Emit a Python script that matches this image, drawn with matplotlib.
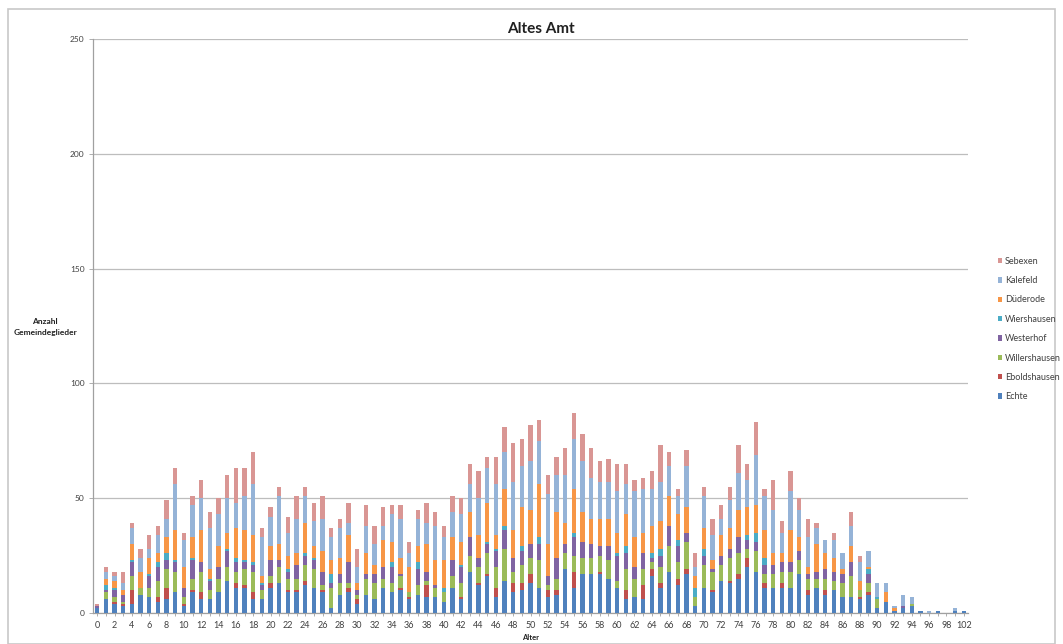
import matplotlib
matplotlib.use("Agg")
import matplotlib.pyplot as plt
from matplotlib.patches import Rectangle, Patch
import numpy as np

plt.rcParams["font.family"] = ["Lato", "DejaVu Sans"]

# Age categories (ages 99 and 101 do not occur)
ages = list(range(0, 99)) + [100, 102]

echte = [2, 6, 4, 3, 4, 8, 7, 5, 6, 9,
         3, 9, 6, 6, 9, 14, 11, 11, 6, 6,
         11, 13, 9, 9, 12, 11, 9, 2, 8, 9,
         4, 8, 6, 11, 9, 10, 6, 8, 7, 7,
         5, 11, 6, 18, 12, 16, 7, 14, 9, 10,
         13, 11, 7, 8, 19, 11, 17, 17, 17, 15,
         11, 6, 7, 6, 16, 11, 18, 12, 17, 3,
         11, 9, 14, 13, 15, 20, 18, 11, 11, 11,
         11, 17, 8, 11, 8, 10, 7, 7, 6, 8,
         2, 5, 1, 2, 3, 1, 0, 1, 0,
         1, 1]
eboldshausen = [0, 0, 1, 1, 6, 0, 0, 2, 5, 0,
                1, 1, 3, 0, 0, 0, 2, 1, 3, 0,
                2, 0, 1, 1, 2, 0, 1, 0, 0, 2,
                2, 0, 0, 0, 0, 1, 1, 0, 5, 0,
                0, 0, 1, 0, 1, 1, 4, 0, 4, 3,
                4, 0, 3, 2, 0, 7, 0, 0, 1, 0,
                0, 4, 0, 6, 3, 2, 0, 3, 2, 0,
                0, 1, 0, 1, 2, 4, 0, 2, 0, 2,
                0, 0, 2, 0, 2, 0, 0, 0, 1, 1,
                0, 0, 0, 0, 0, 0, 0, 0, 0,
                0, 0]
willershausen = [0, 3, 2, 1, 6, 3, 4, 7, 8, 9,
                 3, 5, 9, 4, 6, 6, 5, 7, 9, 4,
                 3, 7, 5, 5, 7, 8, 2, 9, 5, 2,
                 2, 7, 7, 4, 4, 5, 2, 4, 2, 4,
                 4, 5, 6, 7, 7, 9, 9, 14, 5, 8,
                 7, 12, 2, 5, 7, 7, 7, 7, 7, 8,
                 3, 9, 8, 7, 3, 7, 11, 7, 12, 4,
                 10, 8, 7, 10, 9, 4, 9, 4, 6, 5,
                 7, 6, 5, 4, 5, 4, 6, 9, 3, 4,
                 4, 0, 0, 0, 1, 0, 0, 0, 0,
                 0, 0]
westerhof = [1, 1, 3, 3, 6, 0, 5, 6, 4, 4,
             4, 8, 4, 4, 5, 7, 4, 3, 3, 2,
             7, 3, 3, 6, 4, 4, 6, 2, 4, 9,
             2, 2, 4, 5, 7, 1, 0, 7, 4, 1,
             0, 7, 7, 8, 4, 4, 7, 8, 6, 6,
             6, 7, 4, 9, 4, 8, 7, 6, 4, 6,
             11, 7, 5, 7, 2, 5, 9, 7, 4, 0,
             4, 1, 4, 4, 7, 4, 4, 4, 4, 4,
             4, 4, 2, 3, 4, 4, 4, 6, 0, 4,
             0, 0, 0, 1, 0, 0, 0, 0, 0,
             0, 0]
wiershausen = [0, 2, 1, 0, 1, 0, 1, 2, 3, 1,
               0, 1, 0, 1, 0, 1, 2, 1, 1, 1,
               0, 0, 1, 0, 1, 1, 0, 4, 0, 0,
               0, 0, 0, 0, 2, 0, 0, 3, 0, 0,
               2, 0, 1, 0, 0, 1, 1, 2, 0, 2,
               0, 3, 0, 0, 0, 2, 0, 0, 0, 0,
               1, 3, 0, 0, 2, 3, 0, 3, 0, 4,
               3, 0, 0, 0, 0, 2, 4, 3, 0, 0,
               0, 0, 0, 0, 0, 0, 0, 0, 0, 2,
               1, 0, 0, 0, 0, 0, 0, 0, 0,
               0, 0]
duederode = [0, 3, 3, 2, 7, 7, 7, 4, 7, 13,
             9, 9, 14, 4, 9, 7, 13, 13, 12, 3,
             6, 7, 6, 5, 13, 5, 9, 6, 7, 12,
             3, 9, 4, 12, 9, 7, 11, 7, 12, 11,
             12, 10, 10, 11, 10, 17, 6, 16, 12, 17,
             15, 23, 14, 20, 9, 19, 13, 11, 12, 12,
             9, 14, 13, 9, 12, 12, 13, 11, 11, 5,
             9, 4, 9, 9, 12, 12, 12, 12, 5, 4,
             14, 6, 3, 12, 7, 6, 2, 7, 4, 1,
             0, 4, 1, 0, 0, 0, 0, 0, 0,
             0, 0]
kalefeld = [0, 3, 2, 3, 7, 6, 4, 8, 8, 20,
            12, 14, 14, 18, 14, 15, 11, 15, 22, 17,
            13, 21, 10, 15, 12, 11, 14, 10, 13, 5,
            7, 12, 9, 6, 12, 17, 6, 12, 9, 15,
            10, 11, 12, 12, 16, 15, 22, 16, 21, 18,
            21, 19, 22, 16, 21, 22, 22, 18, 16, 16,
            18, 13, 20, 19, 16, 17, 13, 8, 18, 4,
            14, 11, 7, 12, 16, 12, 22, 15, 19, 9,
            17, 12, 13, 7, 6, 8, 7, 9, 8, 7,
            6, 4, 1, 5, 3, 0, 1, 0, 0,
            1, 0]
sebexen = [1, 2, 2, 5, 2, 4, 6, 4, 8, 7,
           3, 4, 8, 7, 7, 10, 15, 12, 14, 4,
           4, 4, 7, 10, 4, 8, 10, 4, 4, 9,
           8, 9, 8, 8, 4, 6, 5, 4, 9, 6,
           5, 7, 7, 9, 12, 5, 12, 11, 17, 12,
           16, 9, 8, 8, 12, 11, 12, 13, 9, 10,
           12, 9, 5, 5, 8, 16, 6, 3, 7, 6,
           4, 7, 6, 6, 12, 7, 14, 3, 13, 5,
           9, 5, 8, 2, 0, 3, 0, 6, 3, 0,
           0, 0, 0, 0, 0, 0, 0, 0, 0,
           0, 0]

series_names = ["Echte", "Eboldshausen", "Willershausen", "Westerhof",
                "Wiershausen", "Düderode", "Kalefeld", "Sebexen"]
series_values = [echte, eboldshausen, willershausen, westerhof,
                 wiershausen, duederode, kalefeld, sebexen]
series_colors = ["#4F81BD", "#C0504D", "#9BBB59", "#8064A2",
                 "#4BACC6", "#F79646", "#95B3D7", "#D99694"]

W, H = 1063, 644
fig = plt.figure(figsize=(W / 100, H / 100), dpi=100)

# chart frame
fig.patches.append(Rectangle((8 / W, 0), (1055 - 8) / W, 1 - 9 / H,
                             transform=fig.transFigure, fill=False,
                             edgecolor="#C8C8C8", linewidth=1.2))

ax = fig.add_axes([93 / W, 1 - 613 / H, (968 - 93) / W, (613 - 39) / H])

x = np.arange(len(ages))
bottom = np.zeros(len(ages))
for name, vals, col in zip(series_names, series_values, series_colors):
    v = np.array(vals, dtype=float)
    ax.bar(x, v, width=0.5, bottom=bottom, color=col, label=name,
           linewidth=0, zorder=3)
    bottom += v

ax.set_xlim(-0.5, len(ages) - 0.5)
ax.set_ylim(0, 250)
ax.set_yticks(np.arange(0, 251, 50))
ax.yaxis.grid(True, color="#BDBDBD", linewidth=0.9, zorder=0)
ax.set_axisbelow(True)

ax.set_xticks(x)
ax.set_xticklabels([str(a) if i % 2 == 0 else "" for i, a in enumerate(ages)])
ax.tick_params(axis="x", length=2.5, width=0.6, color="#A0A0A0",
               labelsize=6.5, labelcolor="#404040", pad=3)
ax.tick_params(axis="y", length=3, width=0.6, color="#A0A0A0",
               labelsize=6, labelcolor="#404040", pad=3)

for side in ("top", "right"):
    ax.spines[side].set_visible(False)
for side in ("left", "bottom"):
    ax.spines[side].set_color("#A0A0A0")
    ax.spines[side].set_linewidth(0.9)

fig.text(541 / W, 1 - 29 / H, "Altes Amt", ha="center", va="center",
         fontsize=11, fontweight="bold", color="#202020")
fig.text(531 / W, 1 - 637.5 / H, "Alter", ha="center", va="center",
         fontsize=5.5, fontweight="bold", color="#202020")
fig.text(45 / W, 1 - 327 / H, "Anzahl\nGemeindeglieder", ha="center",
         va="center", fontsize=6, fontweight="bold", color="#202020",
         linespacing=1.5)

handles = [Patch(facecolor=c, edgecolor="none") for c in series_colors][::-1]
labels = series_names[::-1]
fig.legend(handles, labels, loc="center left",
           bbox_to_anchor=(993 / W, 1 - 329 / H), frameon=False,
           fontsize=6.5, labelcolor="#404040", handlelength=0.55,
           handleheight=0.55, handletextpad=0.3, labelspacing=1.15,
           borderpad=0)

fig.savefig("out.png", dpi=100)
